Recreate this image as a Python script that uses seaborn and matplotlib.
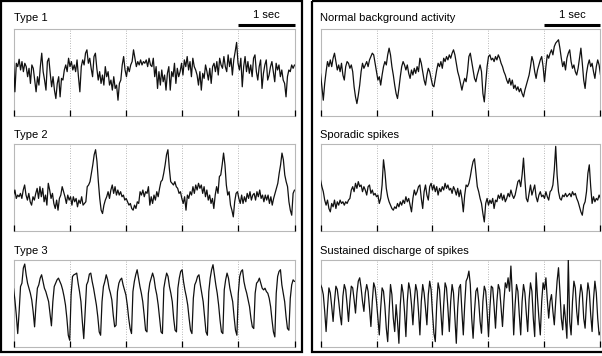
import numpy as np
import pandas as pd
import matplotlib
matplotlib.use("Agg")
import matplotlib.pyplot as plt
from matplotlib.patches import Rectangle
import seaborn as sns

# ---------------- data (amplitude, arbitrary units; 5 s per trace) ----------------
DURATION_S = 5
left_titles = ["Type 1", "Type 2", "Type 3"]
right_titles = ["Normal background activity", "Sporadic spikes", "Sustained discharge of spikes"]
scale_label = "1 sec"

type1 = [31,-59,26,16,38,6,31,1,26,16,
         -14,11,-34,21,11,-24,-59,-14,-39,16,
         56,1,-24,-54,31,41,-4,-44,-14,-54,
         -79,-34,-14,-74,-19,-24,6,21,1,41,
         16,31,6,21,1,36,-14,-59,16,36,
         21,56,66,26,41,11,-14,46,56,11,
         -24,1,-34,-9,-39,16,-14,1,-39,-24,
         -54,-14,-49,-39,-84,-34,-24,21,46,6,
         -14,16,1,21,31,66,41,16,31,21,
         36,21,31,26,36,16,41,21,16,41,
         -14,16,-49,1,-39,6,-29,-9,-54,-4,
         16,-54,1,-14,26,-34,11,-14,1,26,
         -9,36,16,46,6,31,-14,41,16,6,
         -9,-39,1,-54,-4,-19,21,1,-24,11,
         -34,16,26,1,31,-9,41,21,11,46,
         16,1,51,16,41,-9,36,61,88,26,
         6,41,-44,16,46,1,31,-4,21,-14,
         41,51,1,-24,16,36,-49,-4,21,36,
         -24,-9,16,31,1,-29,26,6,21,-14,
         6,-24,-34,-74,-14,6,1,21,11,21]

type2 = [-24,-9,-34,-24,-29,-19,-34,-9,6,-24,
         -39,-19,-44,-54,-29,-39,-19,-4,-34,1,
         -29,-4,-44,-24,-54,11,-9,-34,-19,-49,
         -64,-39,-69,-34,-24,1,-14,-29,-49,-24,
         -39,-29,-54,-29,-44,-34,-59,-39,-49,-29,
         -54,-49,
         -44,1,6,16,41,66,96,111,76,16,
         -34,-69,-79,-54,-39,-29,-14,-34,-9,6,
         -19,1,-24,-9,-24,-14,-29,-24,-39,-34,
         -44,-54,-49,-64,-69,-54,-64,-44,-49,-14,
         -24,-9,-29,-14,-19,1,-54,-29,-49,-24,
         -39,-14,-29,-4,16,21,41,66,96,111,
         56,16,11,6,16,1,-4,-19,-14,-34,
         -49,-29,-69,-24,-34,-14,-24,1,-19,6,
         -9,11,-4,6,-19,1,-29,-9,-39,-24,
         -49,-34,-64,-24,1,-19,31,36,66,101,
         66,6,-24,-14,-54,-69,-89,-44,-19,-14,
         -34,-49,-24,-49,-29,-44,-19,-34,-14,-39,
         -24,-19,-39,-14,-29,-9,-34,-24,-44,-24,
         -39,-24,-49,-29,-54,-34,-19,-4,11,41,
         66,101,81,36,16,1,-44,-69,-84,-19,
         -9]

type3 = [44,9,-36,-91,-26,49,59,104,116,84,
         59,44,29,9,-26,-71,-6,44,54,74,
         84,64,44,34,19,4,-31,-68,4,49,
         59,69,74,64,54,39,19,-6,-46,-96,
         -111,24,79,84,86,89,59,34,4,-56,
         -106,-26,54,64,86,89,64,44,19,-6,
         -41,-86,-96,4,49,64,84,69,44,29,
         9,-36,-71,-66,34,59,69,74,54,39,
         24,-6,-46,-76,-91,34,64,84,99,74,
         49,29,4,-36,-81,-86,29,59,74,89,
         74,44,24,-6,-46,-86,-91,44,69,89,
         79,49,29,4,-46,-81,-86,44,74,94,
         99,64,39,19,-6,-46,-81,-91,14,54,
         64,79,84,54,29,4,-41,-86,-96,34,
         74,99,114,84,54,29,-6,-51,-86,-91,
         39,69,89,74,44,24,4,-41,-81,-96,
         29,79,94,99,64,44,29,9,-11,-46,
         -71,-76,29,59,64,74,59,44,39,44,
         34,29,14,-11,-51,-86,-101,29,79,94,
         99,54,29,4,-41,-76,-81,14,54,69,
         64]

normal_bg = [-4,-44,-84,-34,1,31,16,36,16,41,
             56,31,6,21,1,26,-9,-24,16,31,
             26,11,21,1,-44,-74,-94,-69,-39,1,
             26,11,21,31,16,36,46,56,51,26,
             1,-24,-14,-39,-9,16,31,21,51,71,
             51,16,-9,-39,-64,-79,-49,-14,16,31,
             21,6,21,-4,-19,6,-9,11,-4,16,
             1,41,26,1,-24,-39,-9,11,1,-19,
             -39,-44,-19,6,26,16,31,11,41,31,
             46,36,51,41,56,66,51,26,1,-14,
             -34,-54,-34,-19,-29,1,46,56,31,6,
             -19,-29,-9,6,21,1,-64,-89,-34,16,
             46,51,36,41,31,46,36,51,41,26,
             16,1,-9,-24,-34,-19,-39,-24,-49,-39,
             -54,-44,-59,-49,-64,-74,-54,-39,-24,-9,
             16,46,31,1,-19,6,21,36,46,16,
             -29,16,51,41,56,66,51,76,86,91,
             96,71,41,16,31,6,41,56,66,31,
             11,21,1,-9,11,41,71,26,-24,-49,
             -4,21,36,16,26,1,-19,16,36,21,
             -9]

sporadic = [21,1,-14,-39,-54,-39,-64,-74,-49,-59,
            -39,-64,-44,-54,-39,-49,-44,-54,-44,-49,
            -39,-34,-9,1,-14,11,-4,16,1,6,
            -14,1,-9,-24,1,6,-19,-9,-24,-19,
            -29,-24,-49,-34,6,81,46,-4,-29,-44,
            -54,-64,-69,-59,-64,-49,-59,-44,-54,-39,
            -49,-29,-44,-34,-54,-74,-34,-9,-24,-14,
            1,6,-34,-64,-14,6,-24,-39,1,11,
            -9,6,-14,1,-24,-4,-14,1,-9,11,
            -4,6,-9,-4,-19,1,-9,-24,-4,-29,
            -9,-34,-74,-24,6,1,11,31,56,76,
            84,41,1,-14,-34,-49,-79,-104,-49,-34,
            -54,-39,-49,-34,-64,-39,-44,-24,-34,-19,
            -39,-24,-44,-34,-19,-29,-9,-24,-34,-24,
            -4,16,21,1,36,86,21,-34,-44,-19,
            6,-24,-9,6,-29,-44,-24,-14,-29,-24,
            -34,-14,-29,-39,-14,-9,6,51,121,36,
            -14,-34,-39,-24,-29,-19,-29,-24,-19,-29,
            -14,-24,-19,-34,-44,-59,-74,-84,-54,-44,
            -14,41,66,1,-49,-29,-44,-34,-39,-24,
            -34]

sustained = [55,45,25,-25,-85,-15,45,30,-10,-55,
             5,50,40,5,-35,-65,20,55,40,-5,
             -55,5,50,45,10,-30,30,65,75,45,
             5,-25,30,55,35,-15,-70,5,60,45,
             5,-45,-95,-15,45,35,-10,-75,-115,-25,
             55,25,-45,-85,-5,-55,-120,-5,55,30,
             -25,-100,5,60,40,-5,-65,5,55,35,
             -25,-95,5,55,30,-15,-65,25,65,40,
             -30,-90,-115,-5,60,40,-25,-95,-5,60,
             45,-15,-85,5,55,30,-45,-120,-15,45,
             55,-25,-95,-5,65,75,95,55,-45,-105,
             -25,35,45,5,-55,-90,5,50,35,-25,
             -100,-15,50,45,-10,-75,5,55,40,-15,
             -70,5,60,45,75,35,110,25,-95,-5,
             55,35,-35,-95,5,55,30,-30,-85,10,
             60,35,-45,-100,90,15,-45,-95,5,60,
             40,75,10,-45,5,25,-25,-65,5,65,
             105,35,-45,-80,-5,-50,-105,130,-55,-95,
             5,65,45,-25,-65,15,55,30,-45,-75,
             5,60,35,-35,-85,10,65,30,-45,-95,
             -85]

left_series = [type1, type2, type3]
right_series = [normal_bg, sporadic, sustained]

# ---------------- styling ----------------
sns.set_theme(style="white")
plt.rcParams["font.family"] = ["Liberation Sans", "DejaVu Sans"]

W, H = 602, 356
fig = plt.figure(figsize=(W / 100, H / 100), dpi=100)

# frame overlay (pixel coordinates)
frame = fig.add_axes([0, 0, 1, 1], zorder=0)
frame.set_xlim(0, W)
frame.set_ylim(H, 0)
frame.axis("off")
frame.add_patch(Rectangle((1, 1), 301, 350.5, fill=False, lw=1.6, ec="black"))
frame.add_patch(Rectangle((312, 1), 293, 350.5, fill=False, lw=1.6, ec="black"))

col_x = [(13.5, 294.5), (320.5, 600.5)]
row_y = [(29, 116), (144, 231), (260, 347)]
title_y = [18, 135.5, 250.5]

def make_panel(col, row, values, title):
    x0, x1 = col_x[col]
    y0, y1 = row_y[row]
    ax = fig.add_axes([x0 / W, 1 - y1 / H, (x1 - x0) / W, (y1 - y0) / H], zorder=2)
    ax.patch.set_alpha(0)
    df = pd.DataFrame({"t": np.linspace(0, DURATION_S, len(values)), "v": values})
    sns.lineplot(data=df, x="t", y="v", ax=ax, color="#111111", lw=0.9,
                 estimator=None, sort=False)
    ax.set_xlim(0, DURATION_S)
    ax.set_ylim(-131, 128)
    ax.set_xticks(range(DURATION_S + 1))
    ax.set_xticklabels([])
    ax.set_yticks([])
    ax.set_xlabel("")
    ax.set_ylabel("")
    ax.tick_params(axis="x", which="both", direction="in", length=4.5, width=0.9,
                   color="black", bottom=True, top=False)
    for s in ax.spines.values():
        s.set_color("#b8b8b8")
        s.set_linewidth(0.8)
        s.set_zorder(0.5)
    for g in range(1, DURATION_S):
        ax.axvline(g, color="#a0a0a0", lw=0.6, ls=(0, (1, 2)), zorder=0)
    fig.text(x0 / W, 1 - title_y[row] / H, title, ha="left", va="center",
             fontsize=8, color="black")
    if row == 0:
        trans = ax.get_xaxis_transform()
        ax.plot([DURATION_S - 1, DURATION_S], [1 + 3.8 / 87] * 2, transform=trans,
                color="black", lw=2.2, solid_capstyle="butt", clip_on=False)
        ax.text(DURATION_S - 0.5, 1 + 13.5 / 87, scale_label, transform=trans,
                ha="center", va="center", fontsize=8, color="black")
    return ax

for r in range(3):
    make_panel(0, r, left_series[r], left_titles[r])
    make_panel(1, r, right_series[r], right_titles[r])

fig.savefig("out.png", dpi=100)
